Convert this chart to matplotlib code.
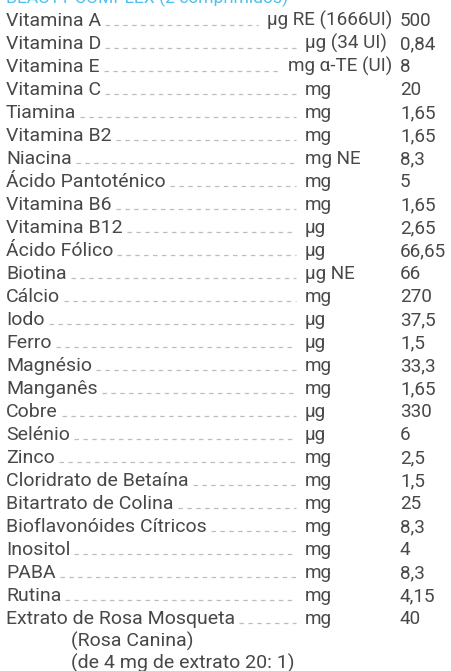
#!/usr/bin/env python3
"""Nutrition table (Beauty Complex) drawn as text with dashed leaders."""
import matplotlib

matplotlib.use("Agg")
import matplotlib.pyplot as plt

plt.rcParams["font.family"] = ["Roboto", "DejaVu Sans"]
plt.rcParams["lines.scale_dashes"] = False

title = "BEAUTY COMPLEX (2 comprimidos)"

nutrients = [
    "Vitamina A", "Vitamina D", "Vitamina E", "Vitamina C", "Tiamina",
    "Vitamina B2", "Niacina", "Ácido Pantoténico", "Vitamina B6",
    "Vitamina B12", "Ácido Fólico", "Biotina", "Cálcio", "Iodo", "Ferro",
    "Magnésio", "Manganês", "Cobre", "Selénio", "Zinco",
    "Cloridrato de Betaína", "Bitartrato de Colina",
    "Bioflavonóides Cítricos", "Inositol", "PABA", "Rutina",
    "Extrato de Rosa Mosqueta",
]
units = [
    "µg RE (1666UI)", "µg (34 UI)", "mg α-TE (UI)", "mg", "mg",
    "mg", "mg NE", "mg", "mg",
    "µg", "µg", "µg NE", "mg", "µg", "µg",
    "mg", "mg", "µg", "µg", "mg",
    "mg", "mg",
    "mg", "mg", "mg", "mg",
    "mg",
]
amounts = [
    "500", "0,84", "8", "20", "1,65",
    "1,65", "8,3", "5", "1,65",
    "2,65", "66,65", "66", "270", "37,5", "1,5",
    "33,3", "1,65", "330", "6", "2,5",
    "1,5", "25",
    "8,3", "4", "8,3", "4,15",
    "40",
]
footnotes = ["(Rosa Canina)", "(de 4 mg de extrato 20: 1)"]

TEXT = "#484848"
LEADER = "#bdbdbd"
BLUE = "#4cc0ee"
FS = 14.0
FS_NUM = 13.6


def main() -> None:
    fig = plt.figure(figsize=(4.51, 6.71), dpi=100)
    fig.patch.set_facecolor("white")
    ax = fig.add_axes([0, 0, 1, 1])
    ax.set_xlim(0, 451)
    ax.set_ylim(671, 0)
    ax.axis("off")
    renderer = fig.canvas.get_renderer()

    x_name, x_unit, x_val = 6, 305, 400
    y0, step, note_step = 26, 23.0, 22.5

    ax.text(x_name, 3.5, title, color=BLUE, fontsize=12.6,
            ha="left", va="baseline")

    for i, (name, unit, amt) in enumerate(zip(nutrients, units, amounts)):
        y = y0 + i * step
        t_name = ax.text(x_name, y, name, color=TEXT, fontsize=FS,
                         ha="left", va="baseline")
        name_w = t_name.get_window_extent(renderer).width
        t_unit = ax.text(x_unit, y, unit, color=TEXT, fontsize=FS_NUM,
                         ha="left", va="baseline")
        unit_w = t_unit.get_window_extent(renderer).width
        ux = x_unit
        if ux + unit_w > x_val - 8:
            ux = x_val - 8 - unit_w
            t_unit.set_x(ux)
        ax.text(x_val, y, amt, color=TEXT, fontsize=FS_NUM,
                ha="left", va="baseline")
        ax.plot([x_name + name_w + 4, ux - 9], [y - 1.5, y - 1.5],
                color=LEADER, lw=0.9, linestyle=(0, (3.2, 3.2)),
                dash_capstyle="butt")

    last = y0 + (len(nutrients) - 1) * step
    for j, note in enumerate(footnotes):
        ax.text(71, last + (j + 1) * note_step, note, color=TEXT,
                fontsize=FS, ha="left", va="baseline")

    fig.savefig("out.png", dpi=100, facecolor="white")
    plt.close(fig)


if __name__ == "__main__":
    main()
